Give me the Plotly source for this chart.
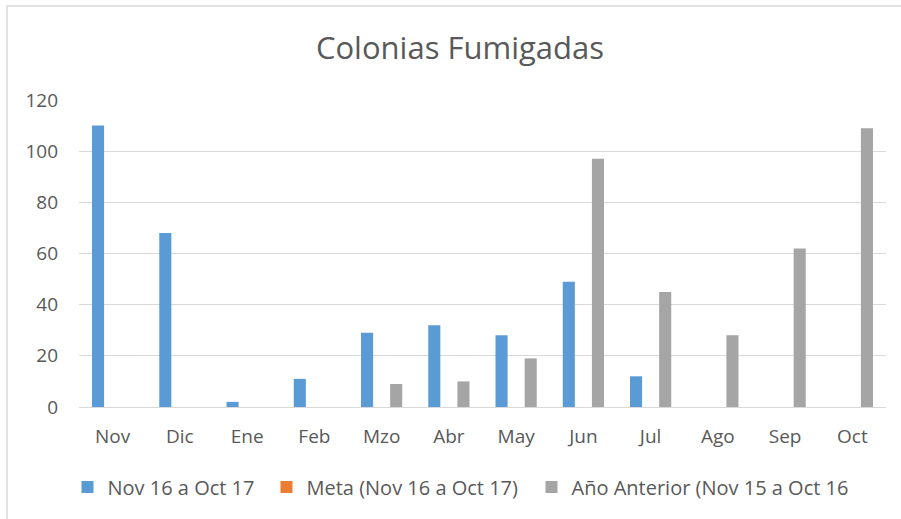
import plotly.graph_objects as go

months = ["Nov", "Dic", "Ene", "Feb", "Mzo", "Abr", "May", "Jun", "Jul", "Ago", "Sep", "Oct"]
actual = [110, 68, 2, 11, 29, 32, 28, 49, 12, None, None, None]
meta = [None] * 12
prev_year = [None, None, None, None, 9, 10, 19, 97, 45, 28, 62, 109]

series_names = ["Nov 16 a Oct 17", "Meta (Nov 16 a Oct 17)", "Año Anterior (Nov 15 a Oct 16"]
colors = ["#5B9BD5", "#ED7D31", "#A5A5A5"]
legend_ids = ["legend", "legend2", "legend3"]

FONT = "'Open Sans', sans-serif"
L, R, T, B = 79, 15, 100, 112
W, H = 901, 519
PW, PH = W - L - R, H - T - B

fig = go.Figure()
for name, vals, c, lg in zip(series_names, [actual, meta, prev_year], colors, legend_ids):
    fig.add_trace(go.Bar(x=months, y=vals, name=name, legend=lg,
                         marker=dict(color=c, line=dict(width=0))))

def px_x(p):
    return (p - L) / PW

def px_y(p):
    return (H - B - p) / PH

leg_common = dict(orientation="h", xanchor="left", y=px_y(487), yanchor="middle",
                  font=dict(size=20, color="#595959", family=FONT), bgcolor="rgba(0,0,0,0)")

fig.update_layout(
    width=W, height=H,
    margin=dict(l=L, r=R, t=T, b=B),
    paper_bgcolor="white", plot_bgcolor="white",
    barmode="group", bargap=0.35, bargroupgap=0.17,
    title=dict(text="Colonias Fumigadas", x=460 / W, xanchor="center", y=1 - 48 / H, yanchor="middle",
               font=dict(family=FONT, size=31, color="#595959")),
    font=dict(family=FONT, color="#595959"),
    showlegend=True,
    legend=dict(x=px_x(67.5), **leg_common),
    legend2=dict(x=px_x(266.5), **leg_common),
    legend3=dict(x=px_x(531.5), **leg_common),
    xaxis=dict(showgrid=False, showline=True, linecolor="#D9D9D9", linewidth=1,
               tickfont=dict(size=19, color="#595959"), ticks="", fixedrange=True,
               ticklabelstandoff=12),
    yaxis=dict(range=[0, 120], dtick=20, showgrid=True, gridcolor="#D9D9D9", gridwidth=1,
               zeroline=False, tickfont=dict(size=19, color="#595959"), ticks="",
               ticklabelstandoff=20, fixedrange=True),
    shapes=[dict(type="rect", xref="paper", yref="paper",
                 x0=px_x(7), x1=px_x(910), y0=px_y(530), y1=px_y(6),
                 line=dict(color="#D9D9D9", width=1.5))],
)
fig.write_html("out.html", config={"displayModeBar": False},
               post_script="document.body.style.margin='0';document.body.style.padding='0';")
